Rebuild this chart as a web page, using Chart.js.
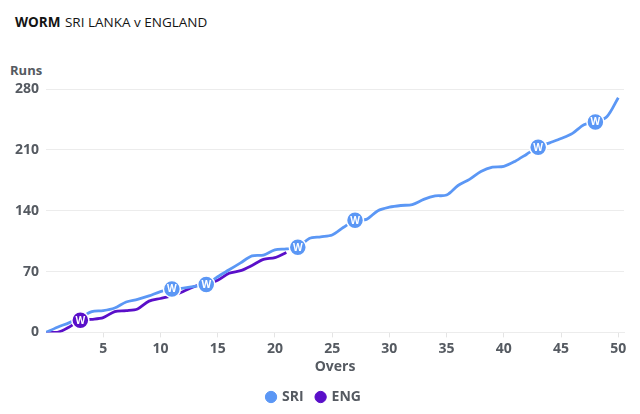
<!DOCTYPE html>
<html lang="en">
  <head>
    <meta charset="UTF-8" />
    <title>Worm - Sri Lanka v England</title>
    <script src="https://cdn.jsdelivr.net/npm/chart.js"></script>
    <style>
      body { margin: 0; background: #fff; font-family: "Open Sans", "Noto Sans", sans-serif; }
      #wrap { position: relative; width: 640px; height: 414px; }
      #title { position: absolute; left: 15px; top: 13px; font-size: 13.5px; color: #141414; }
      #title b { font-weight: 700; margin-right: 1px; }
      #runs { position: absolute; left: 10px; top: 61px; font-size: 13px; font-weight: 700; color: #555a61; }
      canvas { position: absolute; left: 0; top: 0; }
    </style>
  </head>
  <body>
    <div id="wrap">
      <div id="title"><b>WORM</b> SRI LANKA v ENGLAND</div>
      <div id="runs">Runs</div>
      <canvas id="worm" width="640" height="414"></canvas>
    </div>
    <script>
      // runs at the end of each over (index = over number)
      const sriRuns = [0, 6, 11, 17, 24, 25, 28, 35, 38, 42, 47, 50, 51, 53, 55, 64, 72, 80, 88, 89, 95, 96,
        98, 108, 110, 112, 121, 129, 130, 140, 144, 146, 147, 153, 157, 158, 169, 176, 185, 190, 191,
        197, 205, 213, 218, 223, 229, 239, 242, 248, 270];
      const engRuns = [0, 0, 6, 14, 15, 17, 24, 25, 27, 36, 39, 42, 47, 53, 56, 60, 68, 71, 77, 84, 86, 92];
      const sriWickets = [11, 14, 22, 27, 43, 48];
      const engWickets = [3];
      const xTicks = [5, 10, 15, 20, 25, 30, 35, 40, 45, 50];
      const yTicks = [0, 70, 140, 210, 280];

      const SRI_COL = "#5b97f5";
      const ENG_COL = "#5a0fc9";
      const tickCol = "#555a61";
      const tickFont = { size: 14, weight: "bold", family: "'Open Sans', sans-serif" };

      const toPoints = arr => arr.map((v, i) => ({ x: i, y: v }));

      // white "W" circles drawn on top of the wicket overs
      const wicketPlugin = {
        id: "wickets",
        afterDatasetsDraw(chart) {
          const ctx = chart.ctx;
          chart.data.datasets.forEach((ds, di) => {
            const meta = chart.getDatasetMeta(di);
            ds.wickets.forEach(o => {
              const pt = meta.data[o];
              if (!pt) return;
              ctx.save();
              ctx.beginPath();
              ctx.arc(pt.x, pt.y, 8.5, 0, Math.PI * 2);
              ctx.fillStyle = ds.borderColor;
              ctx.fill();
              ctx.lineWidth = 1.5;
              ctx.strokeStyle = "#fff";
              ctx.stroke();
              ctx.fillStyle = "#fff";
              ctx.font = "bold 10px 'Open Sans', sans-serif";
              ctx.textAlign = "center";
              ctx.textBaseline = "middle";
              ctx.fillText("W", pt.x, pt.y + 0.5);
              ctx.restore();
            });
          });
        }
      };

      new Chart(document.getElementById("worm"), {
        type: "line",
        data: {
          datasets: [
            { label: "SRI", data: toPoints(sriRuns), wickets: sriWickets, borderColor: SRI_COL, backgroundColor: SRI_COL },
            { label: "ENG", data: toPoints(engRuns), wickets: engWickets, borderColor: ENG_COL, backgroundColor: ENG_COL }
          ]
        },
        options: {
          responsive: false,
          animation: false,
          layout: { padding: { top: 89, right: 16, left: 4, bottom: 0 } },
          elements: {
            line: { borderWidth: 2.8, tension: 0.3 },
            point: { radius: 0, hoverRadius: 0 }
          },
          scales: {
            x: {
              type: "linear",
              min: 0,
              max: 50.5,
              afterBuildTicks: s => { s.ticks = xTicks.map(v => ({ value: v })); },
              grid: { drawOnChartArea: false, tickLength: 5, color: "#e4e4e4" },
              border: { color: "#ececec" },
              ticks: { color: tickCol, font: tickFont, padding: 3, maxRotation: 0 },
              title: { display: true, text: "Overs", color: tickCol, font: tickFont, padding: { top: -2, bottom: 2 } }
            },
            y: {
              min: 0,
              max: 280,
              afterBuildTicks: s => { s.ticks = yTicks.map(v => ({ value: v })); },
              afterFit: s => { s.width = 42; },
              grid: { color: "#ececec", drawTicks: false },
              border: { display: false },
              ticks: { color: tickCol, font: tickFont, padding: 7 }
            }
          },
          plugins: {
            legend: {
              position: "bottom",
              labels: {
                usePointStyle: true,
                pointStyle: "circle",
                boxWidth: 8,
                boxHeight: 8,
                padding: 13,
                color: tickCol,
                font: tickFont
              }
            },
            tooltip: { enabled: false }
          }
        },
        plugins: [wicketPlugin]
      });
    </script>
  </body>
</html>
